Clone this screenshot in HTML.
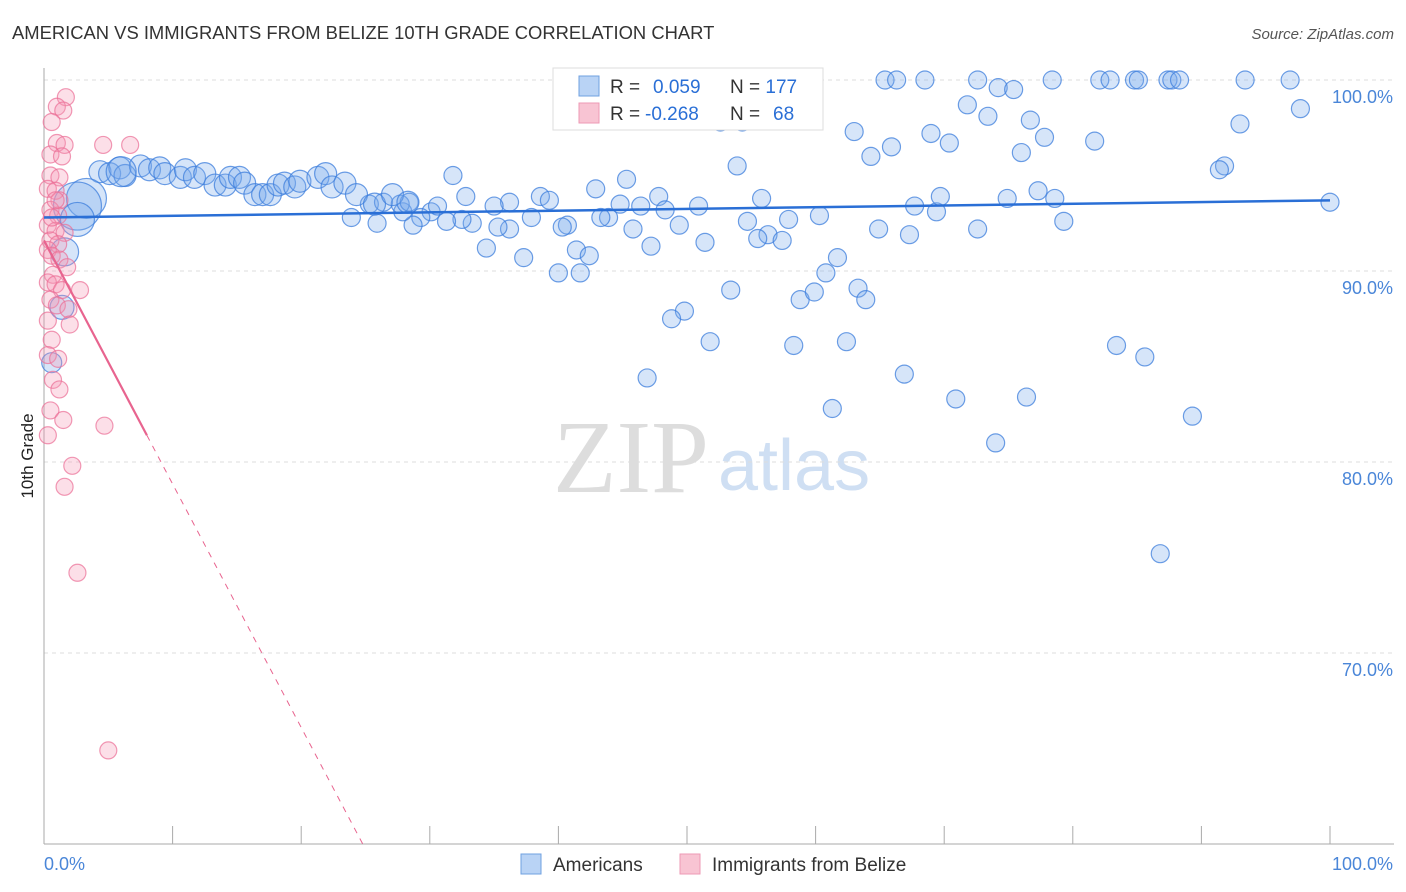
<!DOCTYPE html>
<html><head><meta charset="utf-8"><style>
body{margin:0;background:#fff;font-family:"Liberation Sans",sans-serif;}
svg{display:block}
</style></head><body>
<svg id="chart" width="1406" height="892">
<text x="12" y="39" font-size="18.4" fill="#333">AMERICAN VS IMMIGRANTS FROM BELIZE 10TH GRADE CORRELATION CHART</text>
<text x="1394" y="39" font-size="15" fill="#555" font-style="italic" text-anchor="end">Source: ZipAtlas.com</text>
<text x="553" y="492" font-size="104" fill="#ddd" font-family="Liberation Serif,serif">ZIP</text>
<text x="718" y="490" font-size="72" fill="#cfdff3">atlas</text>
<g id="grid"></g><g id="axes"></g><g id="pts"></g><g id="trends"></g>
<text transform="translate(33,456) rotate(-90)" font-size="17" fill="#222" text-anchor="middle">10th Grade</text>
<g>
<rect x="553" y="68" width="270" height="62" fill="#fff" stroke="#ddd"/>
<rect x="579" y="76" width="20" height="20" fill="#b9d3f5" stroke="#6fa0e0"/>
<rect x="579" y="103" width="20" height="20" fill="#f8c4d3" stroke="#ee9ab5"/>
<text x="610" y="93" font-size="19" fill="#333">R = <tspan fill="#2a6fd6" x="653">0.059</tspan><tspan x="730" fill="#333">N = </tspan><tspan fill="#2a6fd6">177</tspan></text>
<text x="610" y="120" font-size="19" fill="#333">R = <tspan fill="#2a6fd6" x="645">-0.268</tspan><tspan x="730" fill="#333">N = </tspan><tspan fill="#2a6fd6" x="773">68</tspan></text>
</g>
<g>
<rect x="521" y="854" width="20" height="20" fill="#b9d3f5" stroke="#6fa0e0"/>
<text x="553" y="871" font-size="19" fill="#333">Americans</text>
<rect x="680" y="854" width="20" height="20" fill="#f8c4d3" stroke="#ee9ab5"/>
<text x="712" y="871" font-size="19" fill="#333">Immigrants from Belize</text>
</g>
</svg>
<script>
const yTicks=[100,90,80,70];
const yTickLabels=["100.0%","90.0%","80.0%","70.0%"];
const xTickVals=[0,10,20,30,40,50,60,70,80,90,100];
const blueX=[59.2,65.4,66.3,68.5,72.6,78.4,82.1,82.9,84.8,85.1,87.4,87.7,88.3,93.4,96.9,71.8,73.4,74.2,75.4,76.7,77.8,76.0,81.7,97.7,93.0,91.8,91.4,100,63.0,64.3,65.9,68.97,70.4,53.9,52.6,54.3,45.3,42.9,31.8,32.8,36.2,38.6,39.3,44.8,46.4,47.8,48.3,50.9,55.8,60.3,67.7,69.4,69.7,74.9,77.3,78.6,79.3,72.6,64.9,67.3,56.3,55.5,57.4,57.9,54.7,51.4,49.4,45.8,43.9,43.3,40.7,40.3,37.9,36.2,35.3,34.4,33.3,32.5,31.3,30.1,29.3,28.7,27.9,25.9,23.9,25.3,26.4,27.7,28.4,30.6,35.0,41.4,42.4,37.3,40.0,41.7,47.2,60.8,61.7,58.8,59.9,63.3,63.9,53.4,49.8,48.8,51.8,58.3,62.4,46.9,66.9,61.3,70.9,76.4,74.0,83.4,85.6,89.3,86.8];
const blueY=[100,100,100,100,100,100,100,100,100,100,100,100,100,100,100,98.7,98.1,99.6,99.5,97.9,97.0,96.2,96.8,98.5,97.7,95.5,95.3,93.6,97.3,96.0,96.5,97.2,96.7,95.5,97.8,97.8,94.8,94.3,95.0,93.9,93.6,93.9,93.7,93.5,93.4,93.9,93.2,93.4,93.8,92.9,93.4,93.1,93.9,93.8,94.2,93.8,92.6,92.2,92.2,91.9,91.9,91.7,91.6,92.7,92.6,91.5,92.4,92.2,92.8,92.8,92.4,92.3,92.8,92.2,92.3,91.2,92.5,92.7,92.6,93.1,92.8,92.4,93.1,92.5,92.8,93.5,93.6,93.5,93.6,93.4,93.4,91.1,90.8,90.7,89.9,89.9,91.3,89.9,90.7,88.5,88.9,89.1,88.5,89.0,87.9,87.5,86.3,86.1,86.3,84.4,84.6,82.8,83.3,83.4,81.0,86.1,85.5,82.4,75.2];
const clusterX=[4.35,5.1,5.9,6.3,7.5,8.2,9.0,9.4,10.6,11.0,11.7,12.5,13.3,14.1,14.5,15.2,15.6,16.4,17.0,17.6,18.2,18.7,19.5,19.9,21.3,21.9,22.4,23.4,24.3,25.7,27.1,28.3];
const clusterY=[95.2,95.1,95.4,95.0,95.5,95.3,95.4,95.1,94.9,95.3,94.9,95.1,94.5,94.5,94.9,94.9,94.6,94.0,94.0,94.0,94.5,94.6,94.4,94.7,94.9,95.1,94.4,94.6,94.0,93.5,94.0,93.6];
const bigX=[6.0,3.3,2.6,2.6,1.6,1.4,0.6];
const bigY=[95.2,93.8,93.4,92.7,91.0,88.1,85.2];
const bigR=[15,20,24,17,14,12,10];
const pinkX=[1.7,1.0,1.5,0.6,1.0,1.6,0.5,1.4,4.6,6.7,0.5,1.2,0.3,0.9,1.2,0.5,1.1,0.3,0.9,1.6,0.5,1.1,0.3,0.6,1.2,1.8,0.7,0.3,0.9,1.4,2.8,0.5,1.0,1.9,0.3,2.0,0.6,0.3,1.1,0.7,1.2,0.5,1.5,4.7,2.2,1.6,2.6,5.0,0.3,0.9,0.6];
const pinkY=[99.1,98.6,98.4,97.8,96.7,96.6,96.1,96.0,96.6,96.6,95.0,94.9,94.3,94.2,93.7,93.2,92.9,92.4,92.1,92.0,91.6,91.4,91.1,90.8,90.6,90.2,89.8,89.4,89.3,89.0,89.0,88.5,88.2,88.0,87.4,87.2,86.4,85.6,85.4,84.3,83.8,82.7,82.2,81.9,79.8,78.7,74.2,64.9,81.4,93.7,92.8];
const blueTrend=[92.8,93.7];
const pinkTrend=[91.6,81.4];
const X0=44,X1=1330,Y100=80,PX10=191;
const xs=v=>X0+(X1-X0)*v/100;
const ys=v=>Y100+(100-v)*PX10/10;
const NS="http://www.w3.org/2000/svg";
function mk(t,a,p){const e=document.createElementNS(NS,t);for(const k in a)e.setAttribute(k,a[k]);p.appendChild(e);return e;}
const grid=document.getElementById('grid'),axes=document.getElementById('axes'),pts=document.getElementById('pts'),tr=document.getElementById('trends');
yTicks.forEach((v,i)=>{
 const l=mk('line',{x1:X0,x2:1394,y1:ys(v),y2:ys(v),stroke:'#ddd','stroke-dasharray':'4,4'},grid);
 
 
 const t=mk('text',{x:1393,y:ys(v)+23,'font-size':18,fill:'#4a86d8','text-anchor':'end'},grid);
 t.textContent=yTickLabels[i];
 
 
});
const yb=ys(60);
const ax=mk('line',{x1:X0,x2:1394,y1:yb,y2:yb,stroke:'#aaa'},axes);


const ay=mk('line',{x1:X0,x2:X0,y1:68,y2:yb,stroke:'#aaa'},axes);


xTickVals.forEach(v=>{
 const t=mk('line',{x1:xs(v),x2:xs(v),y1:yb-18,y2:yb,stroke:'#aaa'},axes);
 
 
});
const xl=mk('text',{x:44,y:870,'font-size':18,fill:'#4a86d8'},axes);xl.textContent='0.0%';


const xr=mk('text',{x:1393,y:870,'font-size':18,fill:'#4a86d8','text-anchor':'end'},axes);xr.textContent='100.0%';


function bluePt(x,y,r){
 const c=mk('circle',{cx:xs(x),cy:ys(y),r:r,fill:'rgba(120,170,235,0.3)',stroke:'rgba(60,125,220,0.75)','stroke-width':1.2},pts);
 
 
}
blueX.forEach((v,i)=>bluePt(v,blueY[i],9));
clusterX.forEach((v,i)=>bluePt(v,clusterY[i],11));
bigX.forEach((v,i)=>bluePt(v,bigY[i],bigR[i]));
pinkX.forEach((v,i)=>{
 const c=mk('circle',{cx:xs(v),cy:ys(pinkY[i]),r:8.5,fill:'rgba(245,150,180,0.3)',stroke:'rgba(235,110,150,0.7)','stroke-width':1.2},pts);
 
 
});
const bt=mk('line',{x1:xs(0),y1:ys(blueTrend[0]),x2:xs(100),y2:ys(blueTrend[1]),stroke:'#2a6fd6','stroke-width':2.5},tr);


const slope=(pinkTrend[1]-pinkTrend[0])/8;
const ps=mk('line',{x1:xs(0),y1:ys(pinkTrend[0]),x2:xs(8),y2:ys(pinkTrend[1]),stroke:'#e8648f','stroke-width':2.2},tr);


const xe=8+(60-pinkTrend[1])/slope;
const pd=mk('line',{x1:xs(8),y1:ys(pinkTrend[1]),x2:xs(xe),y2:ys(60),stroke:'#e8648f','stroke-width':1,'stroke-dasharray':'6,6'},tr);


</script>
</body></html>
